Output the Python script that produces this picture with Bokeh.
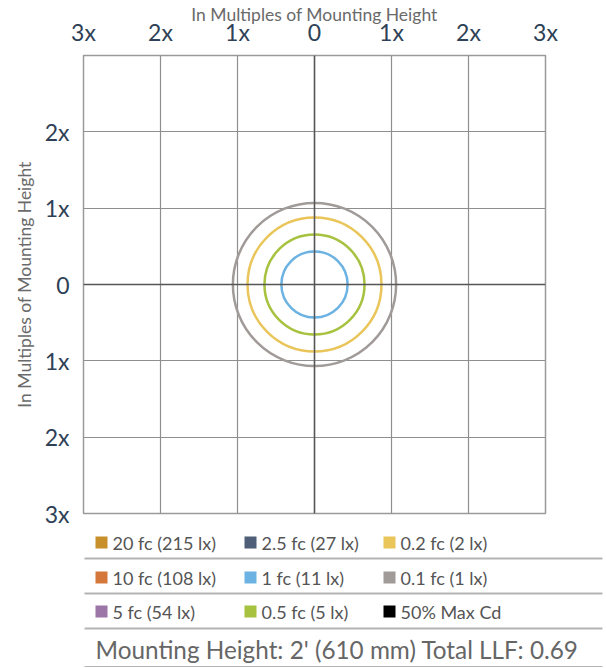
from bokeh.plotting import figure
from bokeh.layouts import column
from bokeh.models import FixedTicker, Span, Range1d, ColumnDataSource
from bokeh.core.properties import value
from bokeh.embed import file_html
from bokeh.resources import INLINE

# ---- data ----
tick_values = [-3, -2, -1, 0, 1, 2, 3]
tick_labels = ["3x", "2x", "1x", "0", "1x", "2x", "3x"]
y_tick_values = [-3, -2, -1, 0, 1, 2]
y_tick_labels = ["3x", "2x", "1x", "0", "1x", "2x"]

contour_names = ["0.1 fc", "0.2 fc", "0.5 fc", "1 fc"]
contour_radii = [1.06, 0.87, 0.65, 0.43]
contour_colors = ["#a09b98", "#e9c55a", "#a6c23f", "#6cb3e3"]

legend_labels = ["20 fc (215 lx)", "10 fc (108 lx)", "5 fc (54 lx)",
                 "2.5 fc (27 lx)", "1 fc (11 lx)", "0.5 fc (5 lx)",
                 "0.2 fc (2 lx)", "0.1 fc (1 lx)", "50% Max Cd"]
legend_colors = ["#c8902b", "#d4773a", "#9b76a6",
                 "#4f5f78", "#6cb3e3", "#a6c23f",
                 "#e9c55a", "#a09b98", "#000000"]
footer_text = "Mounting Height: 2' (610 mm) Total LLF: 0.69"

FONT = "Lato"
TICK_COLOR = "#2e4156"
TITLE_COLOR = "#6a6a6a"
W = 606

# ---- main plot ----
p = figure(width=W, height=528, x_range=(-3, 3), y_range=(-3, 3),
           output_backend="svg", toolbar_location=None,
           x_axis_location="above",
           min_border_left=83, min_border_right=W - 545,
           min_border_top=53, min_border_bottom=15)
p.outline_line_color = "#9a9a9a"
p.outline_line_width = 1.5

for ax, vals, labs in ((p.xaxis[0], tick_values, tick_labels),
                       (p.yaxis[0], y_tick_values, y_tick_labels)):
    ax.ticker = FixedTicker(ticks=vals)
    ax.major_label_overrides = {v: l for v, l in zip(vals, labs)}
    ax.axis_line_color = None
    ax.major_tick_line_color = None
    ax.minor_tick_line_color = None
    ax.major_tick_out = 0
    ax.major_tick_in = 0
    ax.major_label_text_font = FONT
    ax.major_label_text_font_size = "23px"
    ax.major_label_text_color = TICK_COLOR
    ax.axis_label = "In Multiples of Mounting Height"
    ax.axis_label_text_font = FONT
    ax.axis_label_text_font_size = "17.5px"
    ax.axis_label_text_font_style = "normal"
    ax.axis_label_text_color = TITLE_COLOR

p.xaxis[0].major_label_standoff = 10
p.xaxis[0].axis_label_standoff = -10
p.yaxis[0].major_label_standoff = 14
p.yaxis[0].axis_label_standoff = 7
p.yaxis[0].major_label_orientation = "horizontal"

for g in (p.xgrid[0], p.ygrid[0]):
    g.ticker = FixedTicker(ticks=tick_values)
    g.grid_line_color = "#8f8f8f"
    g.grid_line_width = 1.2

p.add_layout(Span(location=0, dimension="height", line_color="#555555", line_width=1.5))
p.add_layout(Span(location=0, dimension="width", line_color="#555555", line_width=1.5))

src = ColumnDataSource(dict(x=[0] * len(contour_radii), y=[0] * len(contour_radii),
                            r=contour_radii, c=contour_colors, n=contour_names))
p.circle(x="x", y="y", radius="r", source=src, fill_color=None,
         line_color="c", line_width=2.5)

# ---- legend / footer ----
LH = 140
L = figure(width=W, height=LH, x_range=Range1d(0, W), y_range=Range1d(LH, 0),
           x_axis_type=None, y_axis_type=None,
           output_backend="svg", toolbar_location=None,
           min_border=0, min_border_left=0, min_border_right=0,
           min_border_top=0, min_border_bottom=0)
L.xgrid.visible = False
L.ygrid.visible = False
L.outline_line_color = None

col_x = [101, 250, 389]
row_y = [14, 49, 83]
sq_x, sq_y, tx = [], [], []
for i in range(len(legend_labels)):
    c, r = divmod(i, 3)
    sq_x.append(col_x[c])
    sq_y.append(row_y[r])
    tx.append(col_x[c] + 11)

L.rect(x=sq_x, y=sq_y, width=12, height=12, width_units="screen", height_units="screen",
       fill_color=legend_colors, line_color=None)
L.text(x=tx, y=sq_y, text=legend_labels, text_font=value(FONT), text_font_size="18px",
       text_color="#555555", text_baseline="middle", text_align="left")

L.segment(x0=[84] * 4, y0=[30, 65, 100, 138], x1=[602] * 4, y1=[30, 65, 100, 138],
          line_color="#b4b4b4", line_width=[2, 2, 2, 1])

L.text(x=[95], y=[121], text=[footer_text], text_font=value(FONT), text_font_size="24.3px",
       text_color="#666666", text_baseline="middle", text_align="left")

layout = column(p, column(L, spacing=0), spacing=0)
open("out.html", "w").write(file_html(layout, INLINE))
